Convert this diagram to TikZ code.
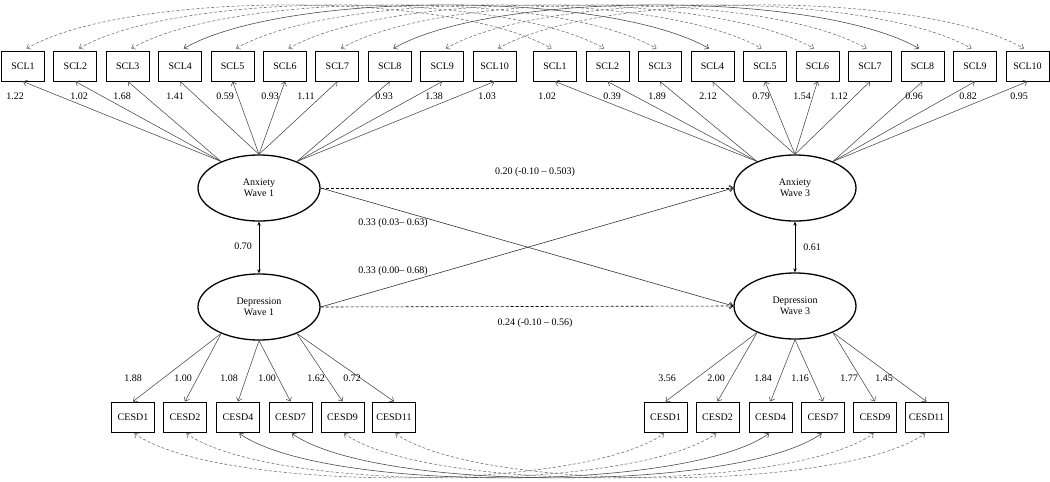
\documentclass[tikz,border=0pt]{standalone}
\usepackage{fontspec}
\setmainfont{Liberation Serif}
\usetikzlibrary{arrows.meta, shapes.geometric}

\begin{document}
\begin{tikzpicture}[x=1pt, y=-1pt, font=\fontsize{10}{11}\selectfont,
  item/.style={draw, line width=1pt, minimum width=43pt, minimum height=30pt, inner sep=1pt},
  latent/.style={draw, ellipse, line width=1.3pt, minimum width=122pt, minimum height=66pt, inner sep=0pt, align=center},
  load/.style={->, >={Straight Barb[length=3.5pt, width=6pt]}, gray!55!black, line width=0.55pt},
  arc/.style={<->, >={Straight Barb[length=3.5pt, width=6pt]}, gray!60!black, line width=0.6pt, shorten <=4pt, shorten >=4pt},
  dashline/.style={dash pattern=on 3pt off 2pt, gray!90!black},
  fullline/.style={solid},
  lagged/.style={->, >={Straight Barb[length=3.5pt, width=6pt]}, gray!40!black, line width=0.6pt},
  corr/.style={<->, >={Stealth[length=4pt, width=3.5pt]}, line width=0.7pt}]
\useasboundingbox (0,0) rectangle (1050,482);

\node[latent] (anx1) at (259,188) {Anxiety\\Wave 1};
\node[latent] (dep1) at (259,307) {Depression\\Wave 1};
\node[latent] (anx3) at (795,188) {Anxiety\\Wave 3};
\node[latent] (dep3) at (795,306) {Depression\\Wave 3};

\foreach \i in {1,...,10} {
  \node[item] (scla\i) at ({23+52.4*(\i-1)},66) {SCL\i};
  \node[item] (sclb\i) at ({555+52.5*(\i-1)},66) {SCL\i};
}
\foreach \n/\x in {1/133, 2/185, 4/238, 7/290.5, 9/342.5, 11/394} {
  \node[item] (cesda\n) at (\x,417) {CESD\n};
  \node[item] (cesdb\n) at ({\x+532.5},417) {CESD\n};
}

\foreach \i/\a in {1/145, 2/145, 3/145, 4/90, 5/90, 6/90, 7/90, 8/35, 9/35, 10/35} {
  \draw[load] (anx1.\a) -- (scla\i.south);
  \draw[load] (anx3.\a) -- (sclb\i.south);
}
\foreach \n/\a in {1/-145, 2/-145, 4/-90, 7/-90, 9/-35, 11/-35} {
  \draw[load] (dep1.\a) -- (cesda\n.north);
  \draw[load] (dep3.\a) -- (cesdb\n.north);
}

\foreach \i/\s in {1/dashline, 2/dashline, 3/dashline, 4/fullline, 5/dashline, 6/dashline, 7/dashline, 8/fullline, 9/dashline, 10/dashline}
  \draw[arc, \s] (scla\i.north) .. controls +(105,-60) and +(-105,-60) .. (sclb\i.north);
\foreach \n/\s in {1/dashline, 2/dashline, 4/fullline, 7/fullline, 9/dashline, 11/dashline}
  \draw[arc, \s, shorten <=1.5pt, shorten >=1.5pt] (cesda\n.south) .. controls +(85,60) and +(-85,60) .. (cesdb\n.south);

\foreach \x/\v in {15/1.22, 79/1.02, 122/1.68, 175/1.41, 225/0.59, 270/0.93, 306/1.11, 384/0.93, 434/1.38, 487/1.03,
                   547/1.02, 612/0.39, 657/1.89, 708/2.12, 761/0.79, 802/1.54, 839/1.12, 914/0.96, 968/0.82, 1019/0.95}
  \node at (\x,96) {\v};
\foreach \x/\v in {133/1.88, 183/1.00, 229/1.08, 267/1.00, 316/1.62, 352/0.72,
                   667/3.56, 716/2.00, 763/1.84, 800/1.16, 849/1.77, 884/1.45}
  \node at (\x,378) {\v};

\draw[lagged, black, dash pattern=on 3pt off 2pt] (anx1.east) -- (anx3.west);
\draw[lagged] (anx1.east) -- (dep3.west);
\draw[lagged] (dep1.east) -- (anx3.west);
\draw[lagged, black, dash pattern=on 3pt off 2pt] (dep1.east) -- (dep3.west);
\node at (535,172) {0.20 (-0.10 – 0.503)};
\node at (393,223) {0.33 (0.03– 0.63)};
\node at (393,271) {0.33 (0.00– 0.68)};
\node at (535,323) {0.24 (-0.10 – 0.56)};

\draw[corr] (anx1.south) -- (dep1.north);
\node at (243,246) {0.70};
\draw[corr] (anx3.south) -- (dep3.north);
\node at (812,247) {0.61};
\end{tikzpicture}
\end{document}
